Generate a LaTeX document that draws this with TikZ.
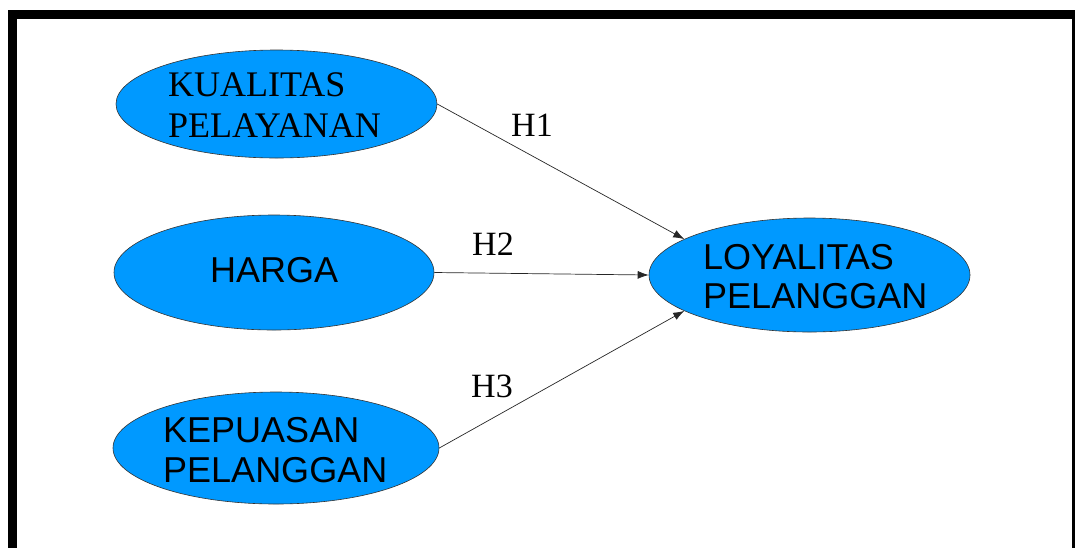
\documentclass[tikz,border=0pt]{standalone}
\usepackage{fontspec}
\setmainfont{Liberation Serif}
\newfontfamily\arialfont{Liberation Sans}
\usetikzlibrary{shapes.geometric,arrows.meta}
\definecolor{varblue}{RGB}{0,153,255}
\begin{document}
\begin{tikzpicture}[x=1pt,y=-1pt,
    var/.style={ellipse,draw=black!80,line width=0.6pt,fill=varblue,
      minimum width=321pt,minimum height=110pt,inner sep=0pt},
    vartext/.style={align=left,inner sep=0pt,anchor=west,
      font=\fontsize{36}{41}\selectfont},
    hyp/.style={font=\fontsize{34}{34}\selectfont,anchor=base,inner sep=0pt},
    link/.style={draw=black!85,line width=0.7pt,-{Latex[length=11pt,width=8pt]}}]
  \useasboundingbox (0,0) rectangle (1075,547);
  % frame, runs off the page at the bottom and right
  \draw[line width=9pt] (12.5,590) -- (12.5,14) -- (1076.5,14) -- (1076.5,590);
  % variables
  \node[var,minimum height=108pt] (kp) at (276.5,104) {};
  \node[var,minimum width=320pt,minimum height=115pt] (hrg) at (274,272.5) {};
  \node[var,minimum width=326pt,minimum height=112pt] (kep) at (276,448) {};
  \node[var,minimum height=114pt] (loy) at (809.5,275) {};
  \node[vartext] (kpt) at (168,105) {KUALITAS\\PELAYANAN};
  \node[vartext,font=\arialfont\fontsize{36}{41}\selectfont] (hrgt) at (210,270.5) {HARGA};
  \node[vartext,font=\arialfont\fontsize{36}{40}\selectfont] (kept) at (163,450) {KEPUASAN\\PELANGGAN};
  \node[vartext,font=\arialfont\fontsize{36}{39}\selectfont] (loyt) at (703,276.5) {LOYALITAS\\PELANGGAN};
  % hypotheses
  \foreach \src/\dst/\hname/\hx/\hy in {kp/164/H1/532/136,hrg/180/H2/493/255,kep/196/H3/492/397}{
    \draw[link] (\src.east) -- (loy.\dst);
    \node[hyp] (\hname) at (\hx,\hy) {\hname};
  }
\end{tikzpicture}
\end{document}
